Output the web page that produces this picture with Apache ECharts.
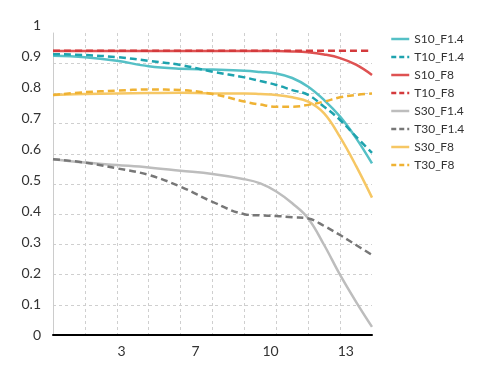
<!DOCTYPE html>
<html>
<head>
<meta charset="utf-8">
<script src="https://cdn.jsdelivr.net/npm/echarts@6/dist/echarts.min.js"></script>
<style>html,body{margin:0;padding:0;background:#fff}#c{width:490px;height:368px}</style>
</head>
<body>
<div id="c"></div>
<script>
var xs = [0, 1, 2, 3, 4, 5, 6, 6.5, 7, 7.5, 8, 8.5, 9, 9.5, 10];
var S10_F14 = [0.925, 0.92, 0.908, 0.89, 0.882, 0.879, 0.875, 0.871, 0.866, 0.851, 0.822, 0.778, 0.723, 0.652, 0.568];
var T10_F14 = [0.93, 0.927, 0.92, 0.908, 0.894, 0.872, 0.853, 0.841, 0.828, 0.811, 0.795, 0.756, 0.712, 0.657, 0.603];
var S10_F8 = [0.94, 0.94, 0.94, 0.94, 0.94, 0.94, 0.94, 0.94, 0.94, 0.939, 0.936, 0.929, 0.917, 0.895, 0.861];
var T10_F8 = [0.941, 0.941, 0.941, 0.941, 0.941, 0.941, 0.941, 0.941, 0.941, 0.941, 0.941, 0.941, 0.941, 0.941, 0.941];
var S30_F14 = [0.582, 0.571, 0.563, 0.555, 0.544, 0.533, 0.516, 0.502, 0.475, 0.436, 0.386, 0.298, 0.199, 0.11, 0.027];
var T30_F14 = [0.582, 0.571, 0.552, 0.53, 0.491, 0.441, 0.40, 0.396, 0.394, 0.39, 0.386, 0.361, 0.331, 0.298, 0.265];
var S30_F8 = [0.795, 0.798, 0.80, 0.801, 0.802, 0.80, 0.80, 0.798, 0.795, 0.787, 0.773, 0.734, 0.655, 0.56, 0.455];
var T30_F8 = [0.795, 0.804, 0.809, 0.813, 0.811, 0.798, 0.773, 0.763, 0.756, 0.756, 0.762, 0.773, 0.787, 0.795, 0.80];
var xTickPos = [2.15, 4.47, 6.82, 9.18];
var xTickLabels = ['3', '7', '10', '13'];

var names = ['S10_F1.4', 'T10_F1.4', 'S10_F8', 'T10_F8', 'S30_F1.4', 'T30_F1.4', 'S30_F8', 'T30_F8'];
var values = [S10_F14, T10_F14, S10_F8, T10_F8, S30_F14, T30_F14, S30_F8, T30_F8];
var colors = ['#55c0c6', '#1ea3ae', '#de5252', '#d43a3c', '#bdbdbd', '#777777', '#f6c764', '#efb233'];

function pairs(arr) { return xs.map(function (x, i) { return [x, arr[i]]; }); }
function isDashed(n) { return n.charAt(0) === 'T'; }

var series = names.map(function (n, i) {
  return {
    name: n, type: 'line', xAxisIndex: 0, yAxisIndex: 0,
    data: pairs(values[i]), smooth: 0.4, showSymbol: false, symbol: 'none',
    lineStyle: { width: 2.5, color: colors[i], type: isDashed(n) ? [7, 4] : 'solid' },
    itemStyle: { color: colors[i] }
  };
});

var legendData = names.map(function (n, i) {
  return {
    name: n,
    itemStyle: { opacity: 0 },
    lineStyle: { color: colors[i], width: 2.5, type: isDashed(n) ? [5, 3] : 'solid' }
  };
});

var gridDash = { color: '#cfcfcf', width: 1, type: [3, 3] };
var option = {
  animation: false,
  textStyle: { fontFamily: 'Lato' },
  legend: {
    orient: 'vertical', left: 385, top: 28, itemWidth: 18, itemHeight: 14, itemGap: 6,
    itemStyle: { opacity: 0 },
    textStyle: { fontSize: 12, color: '#333', fontFamily: 'Lato' },
    data: legendData
  },
  grid: [
    { left: 53, right: 118, top: 33, bottom: 33 },
    { left: 53, right: 118, top: 25, bottom: 33 }
  ],
  xAxis: [
    {
      type: 'value', gridIndex: 0, min: 0, max: 10, interval: 1,
      axisLine: { show: true, lineStyle: { color: '#000', width: 2 } },
      axisTick: { show: false },
      axisLabel: {
        show: true, customValues: xTickPos, margin: 9, fontSize: 14, color: '#333', fontFamily: 'Lato',
        formatter: function (v) {
          var best = 0, d = 1e9;
          for (var i = 0; i < xTickPos.length; i++) { var e = Math.abs(xTickPos[i] - v); if (e < d) { d = e; best = i; } }
          return xTickLabels[best];
        }
      },
      splitLine: { show: true, showMinLine: false, showMaxLine: false, lineStyle: gridDash }
    },
    { type: 'value', gridIndex: 1, min: 0, max: 10, show: false }
  ],
  yAxis: [
    {
      type: 'value', gridIndex: 0, min: 0, max: 1, interval: 0.1,
      axisLine: { show: true, lineStyle: { color: '#cccccc', width: 1 } },
      axisTick: { show: false },
      axisLabel: { show: false },
      splitLine: { show: true, showMinLine: false, showMaxLine: false, lineStyle: gridDash }
    },
    {
      type: 'value', gridIndex: 1, min: 0, max: 1, interval: 0.1,
      axisLine: { show: false }, axisTick: { show: false }, splitLine: { show: false },
      axisLabel: { show: true, margin: 12, fontSize: 14, color: '#333', fontFamily: 'Lato' }
    }
  ],
  series: series
};
var chart = echarts.init(document.getElementById('c'), null, { renderer: 'canvas' });
chart.setOption(option);
</script>
</body>
</html>
